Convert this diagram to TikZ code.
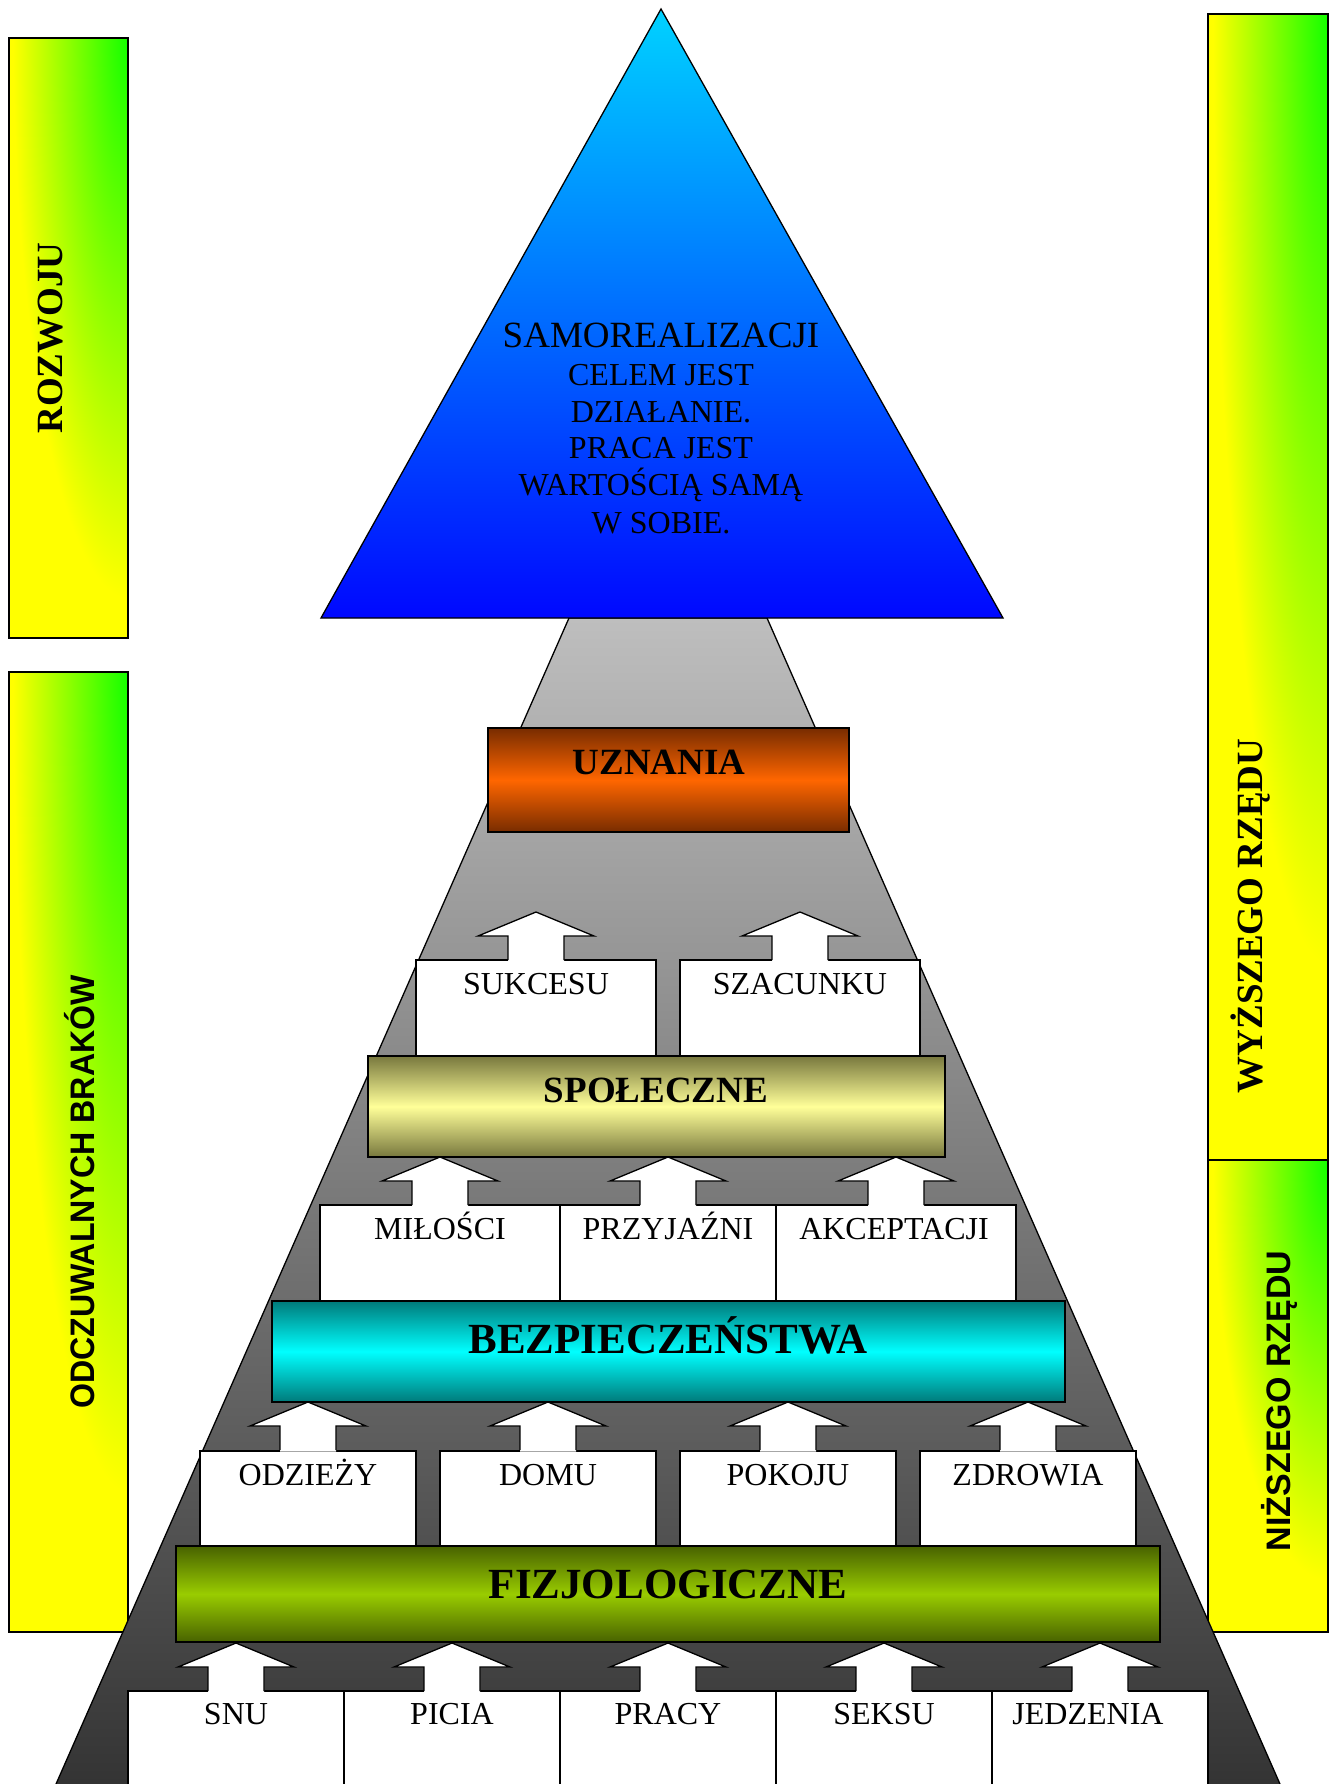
\documentclass[tikz,border=0pt]{standalone}
\usepackage{fontspec}
\setmainfont{Liberation Serif}
\newfontfamily\sansb{Liberation Sans}[FakeStretch=0.945]
\newfontfamily\sansc{Liberation Sans}[FakeStretch=1.0]
\definecolor{barY}{RGB}{255,255,0}
\definecolor{barG}{RGB}{20,255,0}
\definecolor{triTop}{RGB}{0,210,255}
\definecolor{triBot}{RGB}{0,8,255}
\definecolor{trapTop}{RGB}{190,190,190}
\definecolor{trapBot}{RGB}{50,50,50}
\definecolor{uzEdge}{RGB}{120,44,0}
\definecolor{uzMid}{RGB}{255,102,0}
\definecolor{spEdge}{RGB}{120,120,62}
\definecolor{spMid}{RGB}{255,255,153}
\definecolor{bzEdge}{RGB}{0,122,122}
\definecolor{bzMid}{RGB}{0,255,255}
\definecolor{fzEdge}{RGB}{72,98,0}
\definecolor{fzMid}{RGB}{153,204,0}
\newcommand\blockarrowat[2]{%
  \fill[white] (#1-28,#2+49.5) -- (#1-28,#2+24) -- (#1-58,#2+24) -- (#1,#2) -- (#1+58,#2+24) -- (#1+28,#2+24) -- (#1+28,#2+49.5) -- cycle;
  \draw[line join=miter] (#1-28,#2+48) -- (#1-28,#2+24) -- (#1-58,#2+24) -- (#1,#2) -- (#1+58,#2+24) -- (#1+28,#2+24) -- (#1+28,#2+48);}
\newcommand\sidebarat[5]{%
  \begin{scope}
    \clip (#1,#2) rectangle (#3,#4);
    \fill[barY] (#1,#2) rectangle (#3,#4);
    \shade[inner color=barG, outer color=barY] (#3,#2) ellipse [x radius=115pt, y radius=#5pt];
  \end{scope}
  \draw (#1,#2) rectangle (#3,#4);}
\begin{document}
\begin{tikzpicture}[x=1pt,y=-1pt,line width=1.3pt,
  wbox/.style={draw=black,fill=white},
  wlbl/.style={anchor=base,inner sep=0pt,font=\fontsize{32}{36}\selectfont},
  blbl/.style={anchor=base,inner sep=0pt,font=\bfseries\fontsize{37}{40}\selectfont},
  hlbl/.style={anchor=base,inner sep=0pt,font=\bfseries\fontsize{43}{46}\selectfont},
  tlbl/.style={anchor=base,inner sep=0pt,font=\fontsize{32}{35}\selectfont},
  serifside/.style={rotate=90,inner sep=0pt,font=\bfseries\fontsize{37}{40}\selectfont},
  sansside/.style={rotate=90,inner sep=0pt,font=\sansb\bfseries\fontsize{34}{38}\selectfont},
  sansside2/.style={rotate=90,inner sep=0pt,font=\sansc\bfseries\fontsize{34}{38}\selectfont}]
\useasboundingbox (0,0) rectangle (1333,1784);
\clip (0,0) rectangle (1333,1784);
\fill[white] (0,0) rectangle (1333,1784);

% side bars
\sidebarat{9}{38}{128}{638}{560}
\sidebarat{9}{672}{128}{1632}{820}
\sidebarat{1208}{14}{1328}{1160}{950}
\sidebarat{1208}{1160}{1328}{1632}{420}
\node[serifside] (rozwoj) at (51,338) {ROZWOJU};
\node[sansside] (odcz) at (80,1192) {ODCZUWALNYCH BRAKÓW};
\node[serifside] (wyz) at (1251,916) {WYŻSZEGO RZĘDU};
\node[sansside2] (niz) at (1279,1401) {NIŻSZEGO RZĘDU};

% gray trapezoid
\draw[top color=trapTop,bottom color=trapBot] (569,618) -- (767,618) -- (1287,1800) -- (49,1800) -- cycle;

% blue triangle
\draw[top color=triTop,bottom color=triBot] (661,9) -- (1003,618) -- (321,618) -- cycle;
\node[anchor=base,inner sep=0pt,font=\fontsize{37}{40}\selectfont] (t1) at (661,347) {SAMOREALIZACJI};
\node[tlbl] (t2) at (661,385) {CELEM JEST};
\node[tlbl] (t3) at (661,422) {DZIAŁANIE.};
\node[tlbl] (t4) at (661,458) {PRACA JEST};
\node[tlbl] (t5) at (661,495) {WARTOŚCIĄ SAMĄ};
\node[tlbl] (t6) at (661,533) {W SOBIE.};

% UZNANIA
\draw[top color=uzEdge,bottom color=uzEdge,middle color=uzMid] (488,728) rectangle (849,832);
\node[blbl] (uzn) at (659,774) {UZNANIA};

% SUKCESU / SZACUNKU
\draw[wbox] (416,960) rectangle (656,1056);
\draw[wbox] (680,960) rectangle (920,1056);
\blockarrowat{536}{912}
\blockarrowat{800}{912}
\node[wlbl] (suk) at (536,994) {SUKCESU};
\node[wlbl] (sza) at (800,994) {SZACUNKU};

% SPOLECZNE
\draw[top color=spEdge,bottom color=spEdge,middle color=spMid] (368,1056) rectangle (945,1157);
\node[blbl] (spo) at (656,1102) {SPOŁECZNE};

% MILOSCI row
\draw[wbox] (320,1205) rectangle (560,1301);
\draw[wbox] (560,1205) rectangle (776,1301);
\draw[wbox] (776,1205) rectangle (1016,1301);
\blockarrowat{440}{1157}
\blockarrowat{668}{1157}
\blockarrowat{896}{1157}
\node[wlbl] (mil) at (440,1239) {MIŁOŚCI};
\node[wlbl] (prz) at (668,1239) {PRZYJAŹNI};
\node[wlbl] (akc) at (894,1239) {AKCEPTACJI};

% BEZPIECZENSTWA
\draw[top color=bzEdge,bottom color=bzEdge,middle color=bzMid] (272,1301) rectangle (1065,1402);
\node[hlbl] (bez) at (668,1353) {BEZPIECZEŃSTWA};

% ODZIEZY row
\draw[wbox] (200,1451) rectangle (416,1546);
\draw[wbox] (440,1451) rectangle (656,1546);
\draw[wbox] (680,1451) rectangle (896,1546);
\draw[wbox] (920,1451) rectangle (1136,1546);
\blockarrowat{308}{1402}
\blockarrowat{548}{1402}
\blockarrowat{788}{1402}
\blockarrowat{1028}{1402}
\node[wlbl] (odz) at (308,1485) {ODZIEŻY};
\node[wlbl] (dom) at (548,1485) {DOMU};
\node[wlbl] (pok) at (788,1485) {POKOJU};
\node[wlbl] (zdr) at (1028,1485) {ZDROWIA};

% FIZJOLOGICZNE
\draw[top color=fzEdge,bottom color=fzEdge,middle color=fzMid] (176,1546) rectangle (1160,1642);
\node[hlbl] (fiz) at (668,1598) {FIZJOLOGICZNE};

% bottom row
\draw[wbox] (128,1691) rectangle (344,1800);
\draw[wbox] (344,1691) rectangle (560,1800);
\draw[wbox] (560,1691) rectangle (776,1800);
\draw[wbox] (776,1691) rectangle (992,1800);
\draw[wbox] (992,1691) rectangle (1208,1800);
\blockarrowat{236}{1643}
\blockarrowat{452}{1643}
\blockarrowat{668}{1643}
\blockarrowat{884}{1643}
\blockarrowat{1100}{1643}
\node[wlbl] (snu) at (236,1724) {SNU};
\node[wlbl] (pic) at (452,1724) {PICIA};
\node[wlbl] (pra) at (668,1724) {PRACY};
\node[wlbl] (sek) at (884,1724) {SEKSU};
\node[wlbl] (jed) at (1088,1724) {JEDZENIA};
\end{tikzpicture}
\end{document}
